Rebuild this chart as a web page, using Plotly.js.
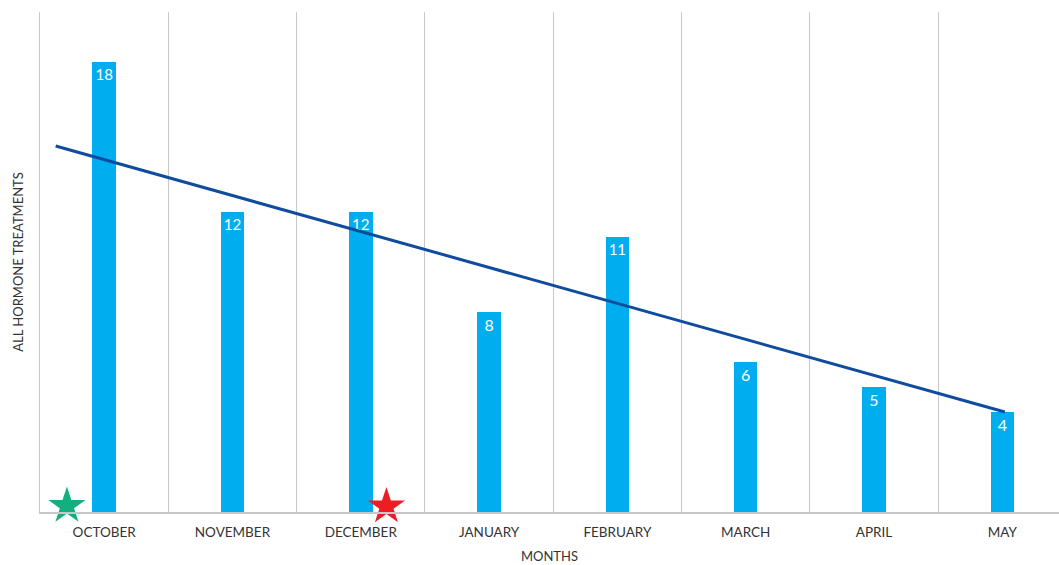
<!DOCTYPE html>
<html>
<head>
<meta charset="utf-8">
<script src="https://cdn.plot.ly/plotly-3.0.1.min.js"></script>
<style>html,body{margin:0;padding:0;background:#fff;}#chart{width:1059px;height:565px;}</style>
</head>
<body>
<div id="chart"></div>
<script>
const months = ["OCTOBER","NOVEMBER","DECEMBER","JANUARY","FEBRUARY","MARCH","APRIL","MAY"];
const treatments = [18, 12, 12, 8, 11, 6, 5, 4];
const monthIndex = [0, 1, 2, 3, 4, 5, 6, 7];
const trendX = [-0.378, 7.02];
const trendY = [14.64, 4.0];
const greenStarX = [-0.29];
const greenStarY = [0.24];
const redStarX = [2.2];
const redStarY = [0.22];
const boundaries = [0.5, 1.5, 2.5, 3.5, 4.5, 5.5, 6.5, 7.5];

const FONT = "Lato, 'Open Sans', sans-serif";

const traces = [
  {
    type: "bar", x: monthIndex, y: treatments, width: 0.183,
    marker: {color: "#00AEEF"},
    text: treatments.map(String), textposition: "inside", insidetextanchor: "end",
    textfont: {color: "#ffffff", size: 16, family: FONT},
    hoverinfo: "x+y", showlegend: false
  },
  {
    type: "scatter", mode: "lines", x: trendX, y: trendY,
    line: {color: "#0F4C9E", width: 3}, showlegend: false
  },
  {
    type: "scatter", mode: "markers", x: greenStarX, y: greenStarY,
    marker: {symbol: "star", size: 28, color: "#14AE7F", line: {width: 0}},
    cliponaxis: false, showlegend: false
  },
  {
    type: "scatter", mode: "markers", x: redStarX, y: redStarY,
    marker: {symbol: "star", size: 28, color: "#EE1D24", line: {width: 0}},
    cliponaxis: false, showlegend: false
  }
];

const layout = {
  width: 1059, height: 565,
  margin: {l: 40, r: 0, t: 12, b: 53},
  paper_bgcolor: "#ffffff", plot_bgcolor: "#ffffff",
  font: {family: FONT, color: "#333333", size: 13},
  xaxis: {
    range: [-0.5, 7.442], tickmode: "array", tickvals: monthIndex, ticktext: months,
    showgrid: false, zeroline: false, ticks: "", ticklabelstandoff: 7,
    tickfont: {size: 13.5, color: "#333333"},
    showline: true, linecolor: "#c8c8c8", linewidth: 1.5,
    minor: {tickmode: "array", tickvals: boundaries, showgrid: true, gridcolor: "#c8c8c8", gridwidth: 1, ticks: ""},
    title: {text: "MONTHS", font: {size: 13, color: "#333333"}, standoff: 13}
  },
  yaxis: {
    range: [0, 20], showgrid: false, zeroline: false, showticklabels: false, ticks: "",
    showline: true, linecolor: "#c8c8c8", linewidth: 1,
    title: {text: "ALL HORMONE TREATMENTS", font: {size: 13, color: "#333333"}, standoff: 12}
  },
  bargap: 0
};

Plotly.newPlot("chart", traces, layout, {displayModeBar: false, staticPlot: true});
</script>
</body>
</html>
